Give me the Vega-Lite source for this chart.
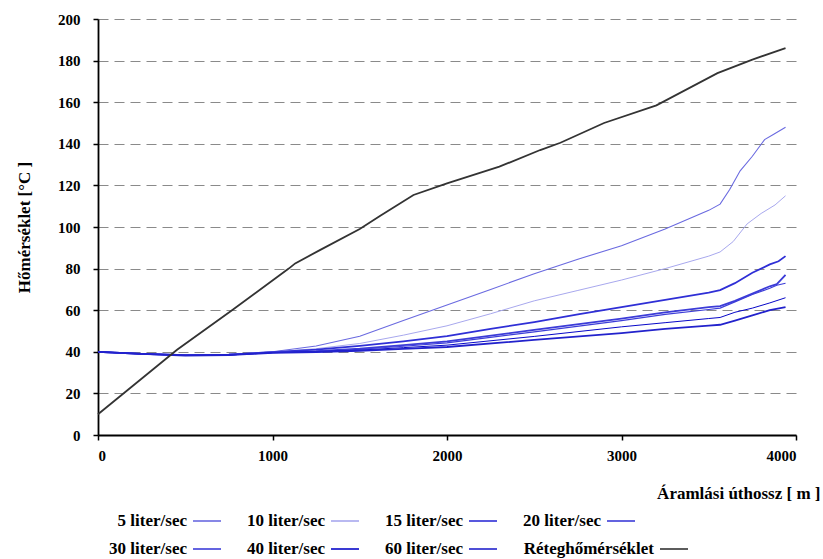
{
  "$schema": "https://vega.github.io/schema/vega-lite/v6.json",
  "width": 698,
  "height": 416,
  "autosize": {"type": "none"},
  "padding": {"left": 98, "top": 19, "right": 27, "bottom": 124},
  "background": "white",
  "config": {
    "view": {"stroke": null},
    "font": "Liberation Serif",
    "axis": {
      "labelFont": "Liberation Serif", "labelFontWeight": "bold", "labelFontSize": 15, "labelColor": "#000",
      "titleFont": "Liberation Serif", "titleFontWeight": "bold", "titleFontSize": 17, "titleColor": "#000",
      "domainColor": "#000", "domainWidth": 1.8, "tickColor": "#000", "tickWidth": 1.5, "tickSize": 5
    },
    "legend": {
      "orient": "none", "direction": "horizontal", "title": null,
      "labelFont": "Liberation Serif", "labelFontWeight": "bold", "labelFontSize": 17, "labelColor": "#000",
      "symbolType": "stroke", "symbolSize": 784, "symbolStrokeWidth": 1.6,
      "labelAlign": "right", "labelOffset": -35, "columnPadding": 22, "labelLimit": 250
    }
  },
  "data": {"values": [
    {"series": "5 liter/sec", "x": 0, "y": 40}, {"series": "5 liter/sec", "x": 250, "y": 39.0}, {"series": "5 liter/sec", "x": 500, "y": 38.5}, {"series": "5 liter/sec", "x": 750, "y": 38.8}, {"series": "5 liter/sec", "x": 1000, "y": 40.0}, {"series": "5 liter/sec", "x": 1250, "y": 42.8}, {"series": "5 liter/sec", "x": 1500, "y": 47.5}, {"series": "5 liter/sec", "x": 1750, "y": 55}, {"series": "5 liter/sec", "x": 2000, "y": 62.5}, {"series": "5 liter/sec", "x": 2250, "y": 70}, {"series": "5 liter/sec", "x": 2500, "y": 77.5}, {"series": "5 liter/sec", "x": 2750, "y": 84.5}, {"series": "5 liter/sec", "x": 3000, "y": 91}, {"series": "5 liter/sec", "x": 3250, "y": 99}, {"series": "5 liter/sec", "x": 3500, "y": 108}, {"series": "5 liter/sec", "x": 3565, "y": 111}, {"series": "5 liter/sec", "x": 3620, "y": 118}, {"series": "5 liter/sec", "x": 3680, "y": 127}, {"series": "5 liter/sec", "x": 3750, "y": 134}, {"series": "5 liter/sec", "x": 3820, "y": 142}, {"series": "5 liter/sec", "x": 3870, "y": 144.5}, {"series": "5 liter/sec", "x": 3940, "y": 148},
    {"series": "10 liter/sec", "x": 0, "y": 40}, {"series": "10 liter/sec", "x": 250, "y": 39.0}, {"series": "10 liter/sec", "x": 500, "y": 38.5}, {"series": "10 liter/sec", "x": 750, "y": 38.7}, {"series": "10 liter/sec", "x": 1000, "y": 39.9}, {"series": "10 liter/sec", "x": 1250, "y": 41.5}, {"series": "10 liter/sec", "x": 1500, "y": 44}, {"series": "10 liter/sec", "x": 1750, "y": 48}, {"series": "10 liter/sec", "x": 2000, "y": 52.5}, {"series": "10 liter/sec", "x": 2250, "y": 58.3}, {"series": "10 liter/sec", "x": 2500, "y": 64.5}, {"series": "10 liter/sec", "x": 2750, "y": 69.5}, {"series": "10 liter/sec", "x": 3000, "y": 74.5}, {"series": "10 liter/sec", "x": 3250, "y": 80}, {"series": "10 liter/sec", "x": 3500, "y": 86}, {"series": "10 liter/sec", "x": 3565, "y": 88}, {"series": "10 liter/sec", "x": 3640, "y": 93}, {"series": "10 liter/sec", "x": 3720, "y": 101.5}, {"series": "10 liter/sec", "x": 3800, "y": 106.5}, {"series": "10 liter/sec", "x": 3880, "y": 110.6}, {"series": "10 liter/sec", "x": 3940, "y": 115},
    {"series": "15 liter/sec", "x": 0, "y": 40}, {"series": "15 liter/sec", "x": 250, "y": 39.0}, {"series": "15 liter/sec", "x": 500, "y": 38.4}, {"series": "15 liter/sec", "x": 750, "y": 38.6}, {"series": "15 liter/sec", "x": 1000, "y": 39.8}, {"series": "15 liter/sec", "x": 1250, "y": 41}, {"series": "15 liter/sec", "x": 1500, "y": 42.8}, {"series": "15 liter/sec", "x": 1750, "y": 45}, {"series": "15 liter/sec", "x": 2000, "y": 47.5}, {"series": "15 liter/sec", "x": 2250, "y": 51}, {"series": "15 liter/sec", "x": 2500, "y": 54.3}, {"series": "15 liter/sec", "x": 2750, "y": 58}, {"series": "15 liter/sec", "x": 3000, "y": 61.5}, {"series": "15 liter/sec", "x": 3250, "y": 65}, {"series": "15 liter/sec", "x": 3500, "y": 68.5}, {"series": "15 liter/sec", "x": 3565, "y": 69.7}, {"series": "15 liter/sec", "x": 3650, "y": 73}, {"series": "15 liter/sec", "x": 3750, "y": 78}, {"series": "15 liter/sec", "x": 3850, "y": 82}, {"series": "15 liter/sec", "x": 3900, "y": 83.5}, {"series": "15 liter/sec", "x": 3940, "y": 86},
    {"series": "20 liter/sec", "x": 0, "y": 40}, {"series": "20 liter/sec", "x": 250, "y": 39.0}, {"series": "20 liter/sec", "x": 500, "y": 38.4}, {"series": "20 liter/sec", "x": 750, "y": 38.6}, {"series": "20 liter/sec", "x": 1000, "y": 39.7}, {"series": "20 liter/sec", "x": 1250, "y": 40.3}, {"series": "20 liter/sec", "x": 1500, "y": 41.5}, {"series": "20 liter/sec", "x": 1750, "y": 43.2}, {"series": "20 liter/sec", "x": 2000, "y": 45}, {"series": "20 liter/sec", "x": 2500, "y": 50.5}, {"series": "20 liter/sec", "x": 3000, "y": 56}, {"series": "20 liter/sec", "x": 3250, "y": 59}, {"series": "20 liter/sec", "x": 3500, "y": 61.5}, {"series": "20 liter/sec", "x": 3565, "y": 62}, {"series": "20 liter/sec", "x": 3650, "y": 64.5}, {"series": "20 liter/sec", "x": 3750, "y": 68}, {"series": "20 liter/sec", "x": 3850, "y": 71.5}, {"series": "20 liter/sec", "x": 3890, "y": 72.5}, {"series": "20 liter/sec", "x": 3940, "y": 77},
    {"series": "30 liter/sec", "x": 0, "y": 40}, {"series": "30 liter/sec", "x": 250, "y": 39.0}, {"series": "30 liter/sec", "x": 500, "y": 38.3}, {"series": "30 liter/sec", "x": 750, "y": 38.5}, {"series": "30 liter/sec", "x": 1000, "y": 39.7}, {"series": "30 liter/sec", "x": 1250, "y": 40.2}, {"series": "30 liter/sec", "x": 1500, "y": 41.2}, {"series": "30 liter/sec", "x": 1750, "y": 42.7}, {"series": "30 liter/sec", "x": 2000, "y": 44.3}, {"series": "30 liter/sec", "x": 2500, "y": 49.6}, {"series": "30 liter/sec", "x": 3000, "y": 55}, {"series": "30 liter/sec", "x": 3250, "y": 58}, {"series": "30 liter/sec", "x": 3500, "y": 60.3}, {"series": "30 liter/sec", "x": 3565, "y": 61}, {"series": "30 liter/sec", "x": 3650, "y": 64}, {"series": "30 liter/sec", "x": 3750, "y": 67.5}, {"series": "30 liter/sec", "x": 3850, "y": 70.5}, {"series": "30 liter/sec", "x": 3890, "y": 72}, {"series": "30 liter/sec", "x": 3940, "y": 73},
    {"series": "40 liter/sec", "x": 0, "y": 40}, {"series": "40 liter/sec", "x": 250, "y": 39.0}, {"series": "40 liter/sec", "x": 500, "y": 38.3}, {"series": "40 liter/sec", "x": 750, "y": 38.5}, {"series": "40 liter/sec", "x": 1000, "y": 39.6}, {"series": "40 liter/sec", "x": 1250, "y": 40.0}, {"series": "40 liter/sec", "x": 1500, "y": 40.8}, {"series": "40 liter/sec", "x": 1750, "y": 42}, {"series": "40 liter/sec", "x": 2000, "y": 43.2}, {"series": "40 liter/sec", "x": 2500, "y": 47.4}, {"series": "40 liter/sec", "x": 3000, "y": 52}, {"series": "40 liter/sec", "x": 3250, "y": 54}, {"series": "40 liter/sec", "x": 3500, "y": 56}, {"series": "40 liter/sec", "x": 3565, "y": 56.5}, {"series": "40 liter/sec", "x": 3650, "y": 59}, {"series": "40 liter/sec", "x": 3750, "y": 61}, {"series": "40 liter/sec", "x": 3850, "y": 63.5}, {"series": "40 liter/sec", "x": 3940, "y": 66},
    {"series": "60 liter/sec", "x": 0, "y": 40}, {"series": "60 liter/sec", "x": 250, "y": 39.0}, {"series": "60 liter/sec", "x": 500, "y": 38.2}, {"series": "60 liter/sec", "x": 750, "y": 38.4}, {"series": "60 liter/sec", "x": 1000, "y": 39.5}, {"series": "60 liter/sec", "x": 1250, "y": 39.9}, {"series": "60 liter/sec", "x": 1500, "y": 40.5}, {"series": "60 liter/sec", "x": 1750, "y": 41.4}, {"series": "60 liter/sec", "x": 2000, "y": 42.3}, {"series": "60 liter/sec", "x": 2500, "y": 45.7}, {"series": "60 liter/sec", "x": 3000, "y": 49}, {"series": "60 liter/sec", "x": 3250, "y": 51}, {"series": "60 liter/sec", "x": 3500, "y": 52.6}, {"series": "60 liter/sec", "x": 3565, "y": 53}, {"series": "60 liter/sec", "x": 3650, "y": 55}, {"series": "60 liter/sec", "x": 3750, "y": 57.5}, {"series": "60 liter/sec", "x": 3850, "y": 60}, {"series": "60 liter/sec", "x": 3940, "y": 61.5},
    {"series": "Réteghőmérséklet", "x": 0, "y": 10}, {"series": "Réteghőmérséklet", "x": 453, "y": 41}, {"series": "Réteghőmérséklet", "x": 768, "y": 60}, {"series": "Réteghőmérséklet", "x": 1093, "y": 80}, {"series": "Réteghőmérséklet", "x": 1130, "y": 82.5}, {"series": "Réteghőmérséklet", "x": 1274, "y": 89}, {"series": "Réteghőmérséklet", "x": 1500, "y": 99}, {"series": "Réteghőmérséklet", "x": 1620, "y": 105.5}, {"series": "Réteghőmérséklet", "x": 1808, "y": 115.4}, {"series": "Réteghőmérséklet", "x": 2000, "y": 121}, {"series": "Réteghőmérséklet", "x": 2300, "y": 129}, {"series": "Réteghőmérséklet", "x": 2534, "y": 137}, {"series": "Réteghőmérséklet", "x": 2650, "y": 140.5}, {"series": "Réteghőmérséklet", "x": 2900, "y": 150}, {"series": "Réteghőmérséklet", "x": 3200, "y": 158.5}, {"series": "Réteghőmérséklet", "x": 3550, "y": 174}, {"series": "Réteghőmérséklet", "x": 3750, "y": 180.5}, {"series": "Réteghőmérséklet", "x": 3940, "y": 186}
  ]},
  "encoding": {
    "x": {"field": "x", "type": "quantitative", "scale": {"domain": [0, 4000]},
      "axis": {"values": [0, 1000, 2000, 3000, 4000], "format": "d", "grid": false, "labelPadding": 8,
        "title": "Áramlási úthossz [ m ]", "titleAnchor": "end", "titleAlign": "right", "titleBaseline": "alphabetic", "titleX": 722, "titleY": 63}},
    "y": {"field": "y", "type": "quantitative", "scale": {"domain": [0, 200]},
      "axis": {"values": [0, 20, 40, 60, 80, 100, 120, 140, 160, 180, 200], "grid": true, "gridDash": [10, 6], "gridColor": "#8a8a8a", "gridWidth": 1.2,
        "labelPadding": 13, "title": "Hőmérséklet  [°C ]", "titlePadding": 24}}
  },
  "layer": [
    {
      "transform": [{"filter": {"field": "series", "oneOf": ["5 liter/sec", "10 liter/sec", "15 liter/sec", "20 liter/sec"]}}],
      "mark": {"type": "line"},
      "encoding": {
        "color": {"field": "series", "type": "nominal",
          "scale": {"domain": ["5 liter/sec", "10 liter/sec", "15 liter/sec", "20 liter/sec"], "range": ["#6a6ae0", "#a8a8ee", "#2f2fd6", "#3c3cd8"]},
          "legend": {"legendX": 94, "legendY": 487}},
        "strokeWidth": {"field": "series", "type": "nominal", "legend": null,
          "scale": {"type": "ordinal", "domain": ["5 liter/sec", "10 liter/sec", "15 liter/sec", "20 liter/sec"], "range": [1.1, 1.0, 1.8, 1.8]}}
      }
    },
    {
      "transform": [{"filter": {"field": "series", "oneOf": ["30 liter/sec", "40 liter/sec", "60 liter/sec", "Réteghőmérséklet"]}}],
      "mark": {"type": "line"},
      "encoding": {
        "stroke": {"field": "series", "type": "nominal",
          "scale": {"domain": ["30 liter/sec", "40 liter/sec", "60 liter/sec", "Réteghőmérséklet"], "range": ["#3d3dd8", "#0808c8", "#2222cc", "#333333"]},
          "legend": {"legendX": 94, "legendY": 515}},
        "strokeWidth": {"field": "series", "type": "nominal", "legend": null,
          "scale": {"type": "ordinal", "domain": ["30 liter/sec", "40 liter/sec", "60 liter/sec", "Réteghőmérséklet"], "range": [1.8, 2.4, 1.8, 1.2]}}
      }
    }
  ]
}
